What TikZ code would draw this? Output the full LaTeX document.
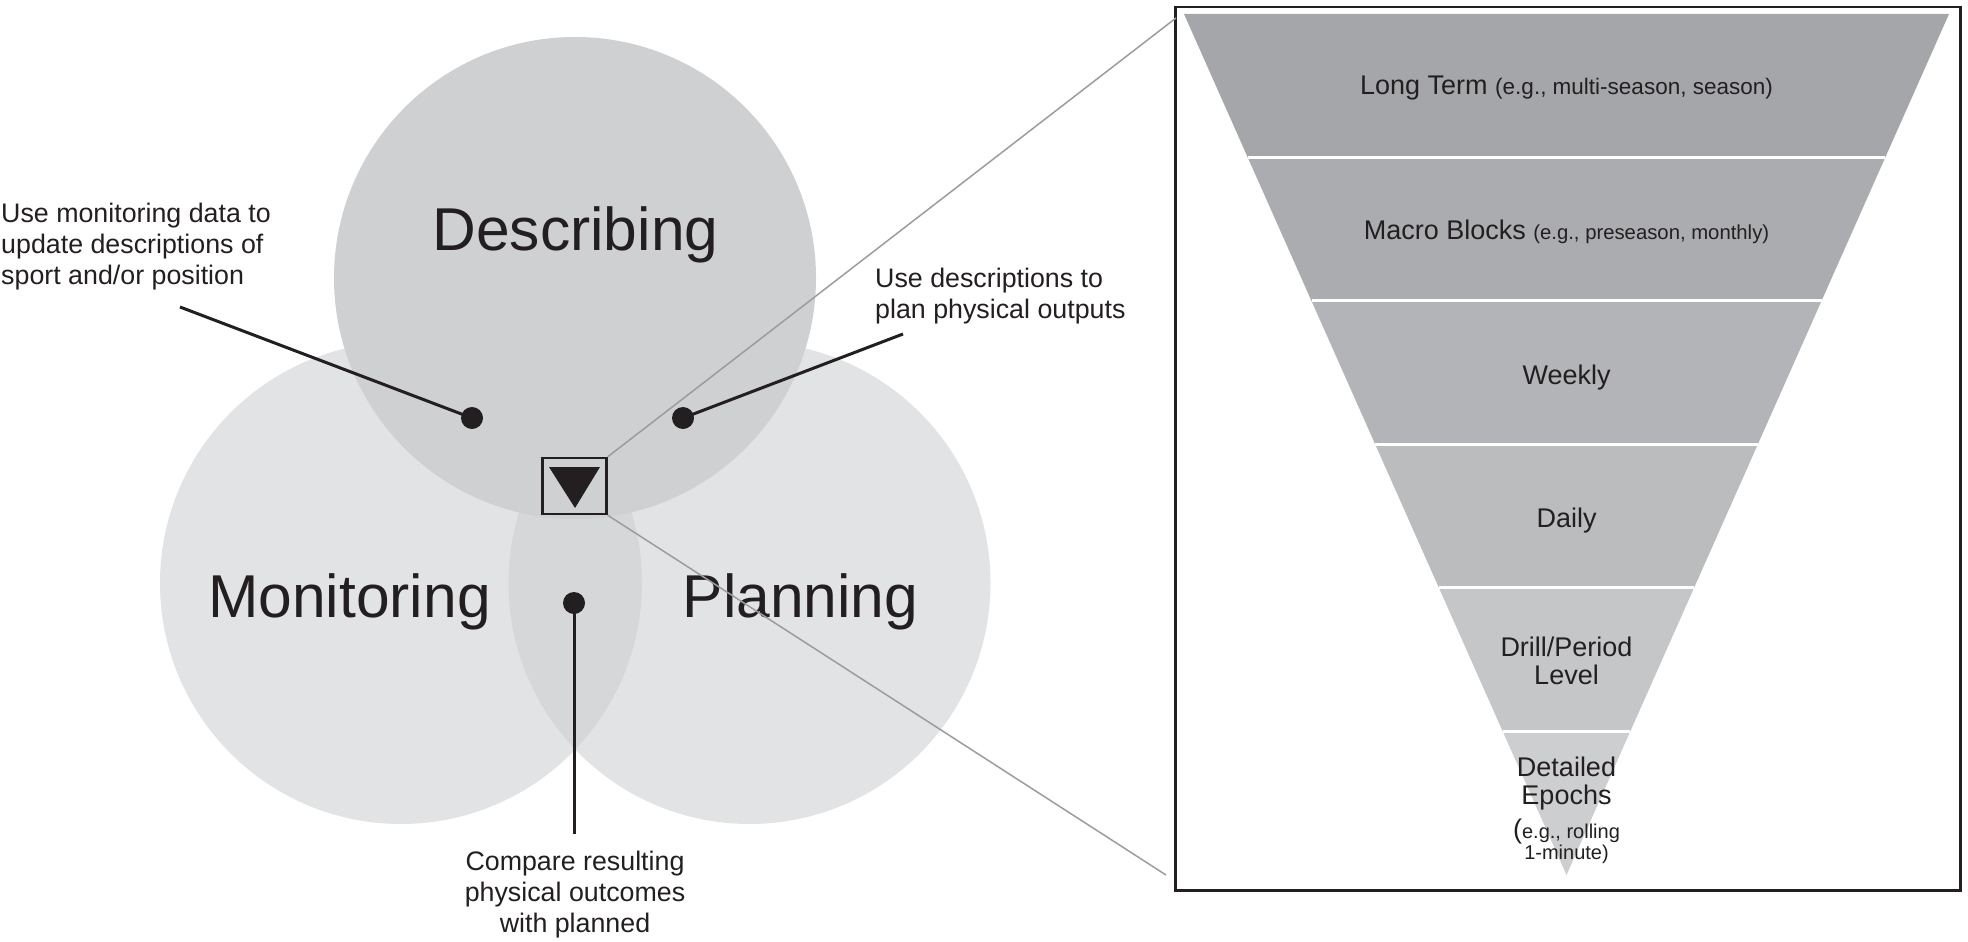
\documentclass[tikz,border=0pt]{standalone}
\usepackage{fontspec}
\setmainfont{Liberation Sans}
\usetikzlibrary{calc}
\definecolor{ink}{HTML}{231F20}
\definecolor{circlight}{HTML}{E2E3E4}
\definecolor{circlens}{HTML}{D6D7D8}
\definecolor{circdark}{HTML}{CFD0D2}
\definecolor{bandA}{HTML}{A5A6A9}
\definecolor{bandB}{HTML}{ABACAF}
\definecolor{bandC}{HTML}{B3B4B7}
\definecolor{bandD}{HTML}{BBBCBE}
\definecolor{bandE}{HTML}{C5C6C8}
\definecolor{bandF}{HTML}{CDCECF}
\definecolor{zoomline}{HTML}{9C9C9C}
\tikzset{
  biglabel/.style={text=ink, inner sep=0pt, anchor=base, font=\fontsize{60.5}{63}\selectfont},
  note/.style={text=ink, inner sep=0pt, font=\fontsize{26.8}{31}\selectfont},
  bandlabel/.style={text=ink, inner sep=0pt, anchor=base, font=\fontsize{27}{28}\selectfont},
  leader/.style={draw=ink, line width=3pt},
  dotmark/.style={circle, fill=ink, minimum size=22pt, inner sep=0pt},
  zoomconn/.style={draw=zoomline, line width=1.5pt},
}
\begin{document}
\begin{tikzpicture}[x=1pt,y=-1pt]
\useasboundingbox (0,0) rectangle (1968,942);
% circles
\coordinate (cD) at (575,278);
\coordinate (cM) at (401,583);
\coordinate (cP) at (749.5,583);
\fill[circlight] (cM) circle (241);
\fill[circlight] (cP) circle (241);
\begin{scope}
  \clip (cM) circle (241);
  \fill[circlens] (cP) circle (241);
\end{scope}
\fill[circdark] (cD) circle (241);
% circle labels
\node[biglabel] (lD) at (575.5,250) {Describing};
\node[biglabel] (lM) at (349.5,617) {Monitoring};
\node[biglabel] (lP) at (800.5,617) {Planning};
% dots
\node[dotmark] (d1) at (472,418) {};
\node[dotmark] (d2) at (683,418) {};
\node[dotmark] (d3) at (574,603) {};
% notes
\node[note, anchor=north west, align=left] (n1) at (1,203) {Use monitoring data to\\update descriptions of\\sport and/or position};
\node[note, anchor=north west, align=left] (n2) at (875,268) {Use descriptions to\\plan physical outputs};
\node[note, anchor=north, align=center] (n3) at (575,851) {Compare resulting\\physical outcomes\\with planned};
\coordinate (e1) at (180,307);
\coordinate (e2) at (903,334);
\coordinate (e3) at (574,834);
\draw[leader] (e1) -- (d1.center);
\draw[leader] (e2) -- (d2.center);
\draw[leader] (d3.center) -- (e3);
% zoom square
\node[draw=ink, line width=2.5pt, minimum width=64pt, minimum height=56pt, inner sep=0pt] (sq) at (574.5,486) {};
\fill[ink] (549,467) -- (600,467) -- (575,508) -- cycle;
% funnel box
\node[draw=ink, line width=2.5pt, minimum width=785pt, minimum height=883pt, inner sep=0pt, anchor=north west] (box) at (1174,6) {};
\coordinate (zt) at (1176,18);
\coordinate (zb) at (1166,875);
\draw[zoomconn] (sq.north east) -- (zt);
\draw[zoomconn] (sq.south east) -- (zb);
% funnel
\coordinate (TL) at (1184,14);
\coordinate (TR) at (1949,14);
\coordinate (AP) at (1566.5,875);
\foreach \k/\c in {0/bandA,1/bandB,2/bandC,3/bandD,4/bandE,5/bandF}{
  \fill[\c] ($(TL)!{\k/6}!(AP)$) -- ($(TR)!{\k/6}!(AP)$) -- ($(TR)!{(\k+1)/6}!(AP)$) -- ($(TL)!{(\k+1)/6}!(AP)$) -- cycle;
}
\foreach \k in {1,...,5}{
  \draw[white, line width=3pt] ($(TL)!{\k/6}!(AP)$) -- ($(TR)!{\k/6}!(AP)$);
}
\node[bandlabel] (f1) at (1566.5,94.5) {Long Term {\fontsize{22.5}{23}\selectfont (e.g., multi-season, season)}};
\node[bandlabel] (f2) at (1566.5,239.5) {Macro Blocks {\fontsize{20.3}{21}\selectfont (e.g., preseason, monthly)}};
\node[bandlabel] (f3) at (1566.5,384) {Weekly};
\node[bandlabel] (f4) at (1566.5,527.5) {Daily};
\node[bandlabel, anchor=north, align=center, font=\fontsize{27}{28}\selectfont] (f5) at (1566.5,637) {Drill/Period\\Level};
\node[bandlabel, anchor=north, align=center, font=\fontsize{27}{27.5}\selectfont] (f6) at (1566.5,757) {Detailed\\Epochs};
\node[bandlabel, anchor=north, align=center, font=\fontsize{20}{21}\selectfont] (f6b) at (1566.5,819) {{\fontsize{27}{27}\selectfont(}e.g., rolling\\1-minute)};
\end{tikzpicture}
\end{document}
